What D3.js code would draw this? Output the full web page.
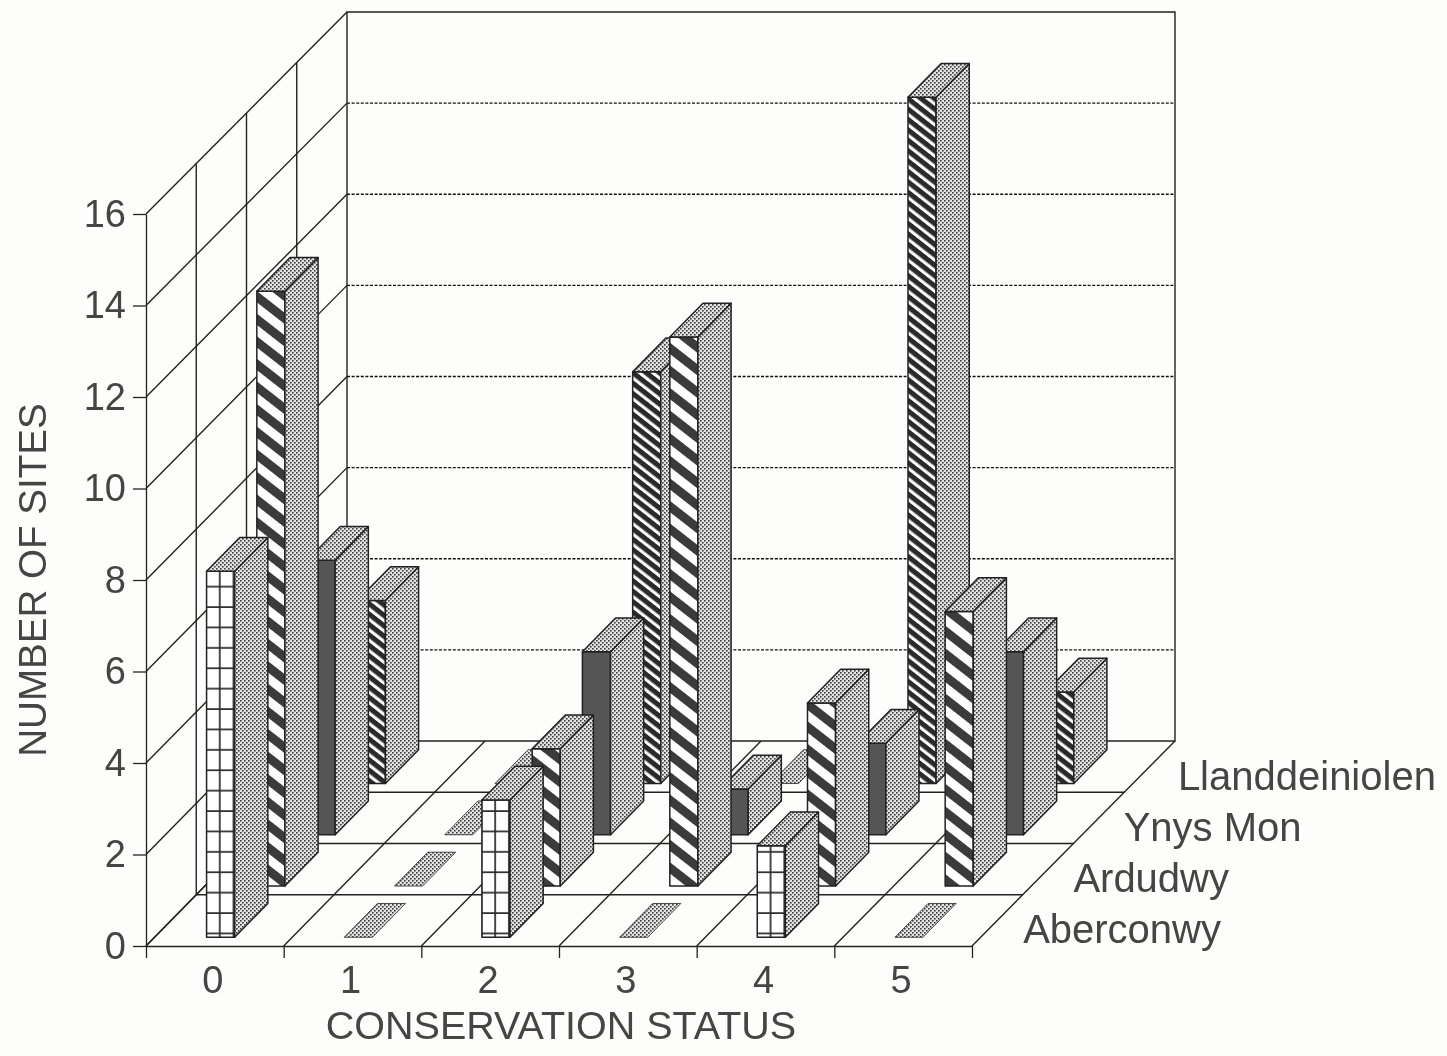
<!DOCTYPE html>
<html>
<head>
<meta charset="utf-8">
<script src="https://d3js.org/d3.v7.min.js"></script>
<style>
body { margin: 0; background: #fdfdfc; }
text { font-family: "Liberation Sans", Arial, sans-serif; fill: #444; }
.domain, .tick line { stroke: #222; stroke-width: 1.3; }
</style>
</head>
<body>
<div id="chart"></div>
<script>
var statuses = [0, 1, 2, 3, 4, 5];
var regions = ["Aberconwy", "Ardudwy", "Ynys Mon", "Llanddeiniolen"];
var yTicks = [0, 2, 4, 6, 8, 10, 12, 14, 16];

// number of sites per conservation status, one list for each region
var aberconwy = [8, 0, 3, 0, 2, 0];
var ardudwy = [13, 0, 3, 12, 4, 6];
var ynysMon = [6, 0, 4, 1, 2, 4];
var llanddeiniolen = [4, 0, 9, 0, 15, 2];
var values = [aberconwy, ardudwy, ynysMon, llanddeiniolen];

var width = 1447,
    height = 1056;

var x = d3.scaleLinear().domain([0, 6]).range([146, 972]);
var y = d3.scaleLinear().domain([0, 16]).range([946, 214]);
var depthX = d3.scaleLinear().domain([0, 4]).range([0, 201]);
var depthY = d3.scaleLinear().domain([0, 4]).range([0, -205]);
var band = d3.scaleBand().domain(statuses).range([146, 972]);

// 3d position: s along status axis, v up, d into the page
function pt(s, v, d) {
    return [x(s) + depthX(d), y(v) + depthY(d)];
}
// the walls in the scan sit a little skewed compared to the bars
function wall(s, v, d) {
    var p = pt(s, v, d);
    return [p[0] + 2 * (s / 6) * (d / 4), p[1] + 3 * (v / 16) * (d / 4)];
}
function poly(points) {
    return points.map(function(p) { return p.join(","); }).join(" ");
}

var svg = d3.select("#chart").append("svg")
    .attr("width", width)
    .attr("height", height);

var defs = svg.append("defs");

// scanned look
defs.append("filter").attr("id", "scan")
    .attr("x", 0).attr("y", 0).attr("width", 1).attr("height", 1)
    .attr("filterUnits", "objectBoundingBox")
    .append("feGaussianBlur").attr("stdDeviation", 0.6);

function stripes(id, period, dark, colour) {
    var p = defs.append("pattern").attr("id", id)
        .attr("patternUnits", "userSpaceOnUse")
        .attr("width", period).attr("height", period)
        .attr("patternTransform", "rotate(38)");
    p.append("rect").attr("width", period).attr("height", period).attr("fill", "#fff");
    p.append("rect").attr("width", period).attr("height", period * dark).attr("fill", colour);
}
stripes("wide", 17.8, 0.5, "#3a3a3a");
stripes("fine", 8.2, 0.62, "#2a2a2a");

var grid = defs.append("pattern").attr("id", "grid")
    .attr("patternUnits", "userSpaceOnUse")
    .attr("width", 13.77).attr("height", 20.4)
    .attr("y", 912 % 20.4).attr("x", 205 % 13.77);
grid.append("rect").attr("width", 13.77).attr("height", 20.4).attr("fill", "#fff");
grid.append("path").attr("d", "M0,1H13.77M1,0V20.4").attr("stroke", "#2a2a2a").attr("stroke-width", 1.7);

var stipple = defs.append("pattern").attr("id", "stipple")
    .attr("patternUnits", "userSpaceOnUse")
    .attr("width", 4).attr("height", 4);
stipple.append("rect").attr("width", 4).attr("height", 4).attr("fill", "#e2e2e2");
stipple.append("rect").attr("width", 1.6).attr("height", 1.6).attr("fill", "#3c3c3c");
stipple.append("rect").attr("x", 2).attr("y", 2).attr("width", 1.6).attr("height", 1.6).attr("fill", "#3c3c3c");

var fills = ["url(#grid)", "url(#wide)", "#555", "url(#fine)"];

var root = svg.append("g").attr("filter", "url(#scan)");
root.append("rect").attr("width", width).attr("height", height).attr("fill", "#fdfdfc");

var frame = root.append("g")
    .attr("fill", "none")
    .attr("stroke", "#222")
    .attr("stroke-width", 1.4);

function line(g, a, b) {
    return g.append("line")
        .attr("x1", a[0]).attr("y1", a[1])
        .attr("x2", b[0]).attr("y2", b[1]);
}

// back wall
frame.append("polygon").attr("points", poly([wall(0, 0, 4), wall(0, 16, 4), wall(6, 16, 4), wall(6, 0, 4)]));
yTicks.slice(1, -1).forEach(function(v) {
    line(frame, wall(0, v, 4), wall(6, v, 4)).attr("stroke-dasharray", "3 1.6").attr("stroke", "#111");
});
// left wall
yTicks.forEach(function(v) {
    line(frame, wall(0, v, 0), wall(0, v, 4));
});
[1, 2, 3].forEach(function(d) {
    line(frame, wall(0, 0, d), wall(0, 16, d));
    // floor, across
    line(frame, wall(0, 0, d), wall(6, 0, d));
});
// floor, going back
d3.range(7).forEach(function(s) {
    line(frame, wall(s, 0, 0), wall(s, 0, 4));
});

// bars, back row first
var barStart = 0.378, barWidth = 0.204, inset = 0.17, barDepth = 0.66;
d3.range(3, -1, -1).forEach(function(r) {
    var row = root.append("g")
        .attr("stroke", "#222")
        .attr("stroke-width", 1.5)
        .attr("stroke-linejoin", "round");
    row.selectAll("g.bar")
        .data(values[r]).enter().append("g")
        .attr("class", "bar")
        .each(function(v, s) {
            var g = d3.select(this);
            var l = s + barStart, h = l + barWidth;
            var d0 = r + inset, d1 = d0 + barDepth;
            if (v > 0) {
                g.append("polygon").attr("fill", fills[r])
                    .attr("points", poly([pt(l, 0, d0), pt(l, v, d0), pt(h, v, d0), pt(h, 0, d0)]));
                g.append("polygon").attr("fill", "url(#stipple)")
                    .attr("points", poly([pt(h, 0, d0), pt(h, v, d0), pt(h, v, d1), pt(h, 0, d1)]));
            }
            g.append("polygon").attr("fill", "url(#stipple)")
                .attr("stroke-width", v > 0 ? 1.5 : 0.8)
                .attr("points", poly([pt(l, v, d0), pt(h, v, d0), pt(h, v, d1), pt(l, v, d1)]));
        });
});

// axes
var yAxis = root.append("g")
    .attr("transform", "translate(146,0)")
    .call(d3.axisLeft(y).tickValues(yTicks).tickSize(13).tickSizeOuter(0).tickPadding(7));
yAxis.selectAll("text").style("font-size", "38px").style("font-family", "Liberation Sans").attr("fill", "#444");

var xTicksAxis = root.append("g")
    .attr("transform", "translate(0,946)")
    .call(d3.axisBottom(x).tickValues(d3.range(7)).tickSize(12).tickSizeOuter(0).tickFormat(""));

var xLabels = root.append("g")
    .attr("transform", "translate(-2,966)")
    .call(d3.axisBottom(band).tickSize(0).tickPadding(0));
xLabels.select(".domain").remove();
xLabels.selectAll("text").style("font-size", "38px").style("font-family", "Liberation Sans").attr("fill", "#444");

root.append("text")
    .attr("x", 561).attr("y", 1039)
    .attr("text-anchor", "middle")
    .style("font-size", "39.5px")
    .text("CONSERVATION STATUS");

root.append("text")
    .attr("transform", "translate(46,580) rotate(-90)")
    .attr("text-anchor", "middle")
    .style("font-size", "38.6px")
    .text("NUMBER OF SITES");

root.selectAll("text.region")
    .data(regions).enter().append("text")
    .attr("class", "region")
    .attr("x", function(d, i) { return pt(6, 0, i + 0.5)[0] + 26 + (i == 3 ? 4 : 0); })
    .attr("y", function(d, i) { return pt(6, 0, i + 0.5)[1] + 23; })
    .style("font-size", "40px")
    .text(function(d) { return d; });
</script>
</body>
</html>
